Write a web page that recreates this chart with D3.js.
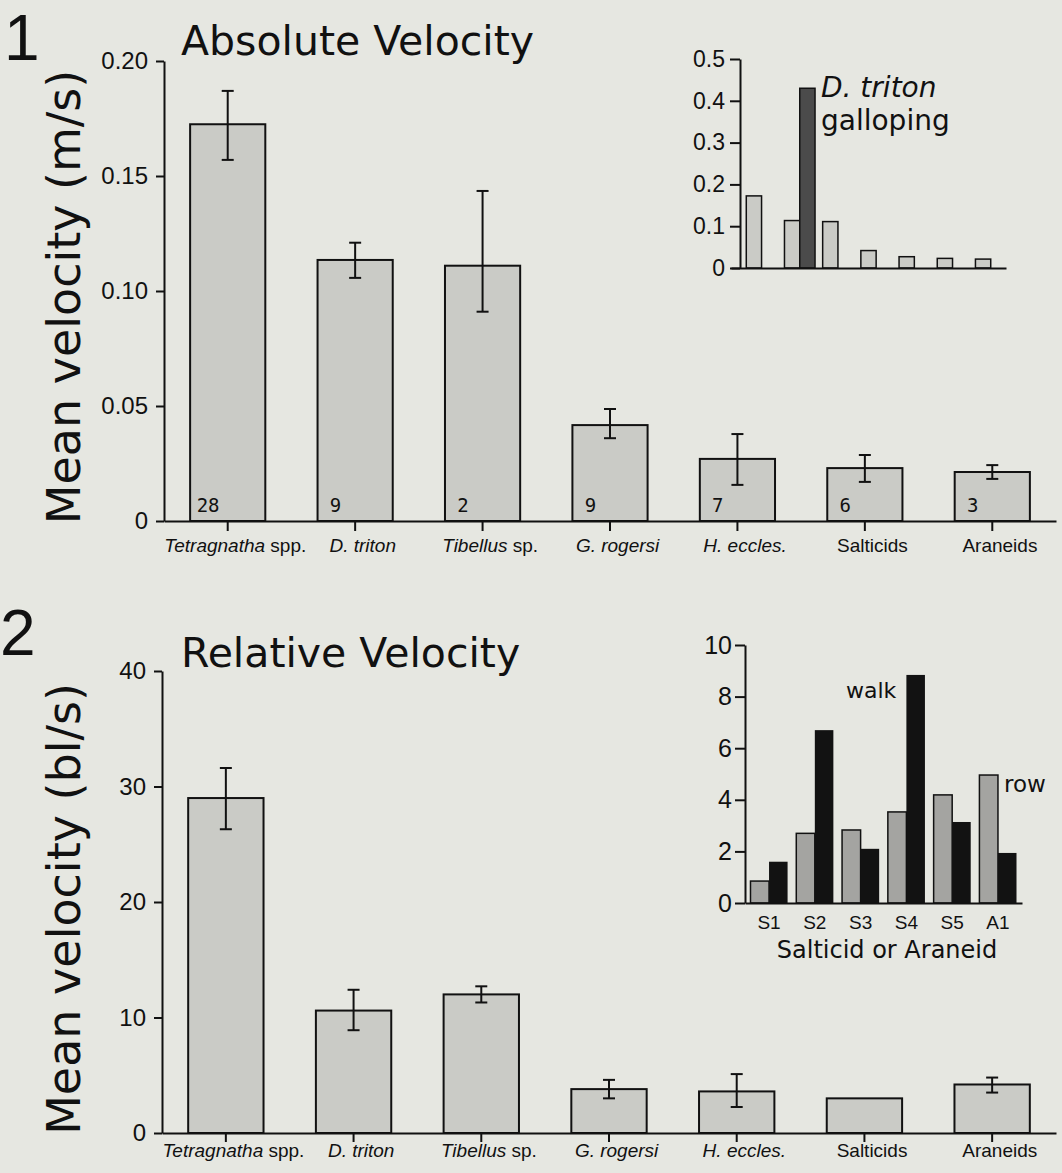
<!DOCTYPE html>
<html>
<head>
<meta charset="utf-8">
<title>Absolute and Relative Velocity</title>
<script src="https://d3js.org/d3.v7.min.js"></script>
<style type="text/css">
    body {
        margin: 0;
        background: #e6e7e1;
    }
    svg {
        display: block;
        font-family: "DejaVu Sans", sans-serif;
    }
    .axis path,
    .axis line {
        fill: none;
        stroke: #111;
        stroke-width: 2;
    }
    .axis text {
        fill: #111;
        white-space: pre;
    }
    .bar {
        fill: #cacbc6;
        stroke: #111;
        stroke-width: 2;
    }
    .err {
        stroke: #111;
        stroke-width: 2;
    }
    .label { fill: #111; }
</style>
</head>
<body>
<svg id="chart" width="1062" height="1173"></svg>
<script>
// main bar charts
var species = ["Tetragnatha spp.", "D. triton", "Tibellus sp.", "G. rogersi", "H. eccles.", "Salticids", "Araneids"];
var italicPart = ["Tetragnatha", "D. triton", "Tibellus", "G. rogersi", "H. eccles.", "", ""];
var plainPart = [" spp.", "", " sp.", "", "", "Salticids", "Araneids"];
var sampleN = [28, 9, 2, 9, 7, 6, 3];

var absVel = [0.1725, 0.1135, 0.111, 0.0417, 0.027, 0.023, 0.0213];
var absErrHi = [0.187, 0.121, 0.1435, 0.0487, 0.0378, 0.0287, 0.0243];
var absErrLo = [0.157, 0.1057, 0.091, 0.036, 0.0157, 0.017, 0.0183];
var absTicks = [0, 0.05, 0.10, 0.15, 0.20];
var absTickLabels = ["0", "0.05", "0.10", "0.15", "0.20"];

var relVel = [29.0, 10.6, 12.0, 3.8, 3.6, 3.0, 4.2];
var relErrHi = [31.6, 12.4, 12.7, 4.6, 5.1, null, 4.8];
var relErrLo = [26.3, 8.9, 11.3, 3.0, 2.25, null, 3.5];
var relTicks = [0, 10, 20, 30, 40];
var relTickLabels = ["0", "10", "20", "30", "40"];

// inset 1: D. triton galloping
var gallopVel = 0.43;
var gallopTicks = [0, 0.1, 0.2, 0.3, 0.4, 0.5];
var gallopTickLabels = ["0", "0.1", "0.2", "0.3", "0.4", "0.5"];

// inset 2: row vs walk
var gaitSpiders = ["S1", "S2", "S3", "S4", "S5", "A1"];
var rowVel = [0.85, 2.7, 2.83, 3.53, 4.19, 4.96];
var walkVel = [1.6, 6.7, 2.1, 8.84, 3.14, 1.94];
var gaitTicks = [0, 2, 4, 6, 8, 10];

var svg = d3.select("#chart");

function mainPanel(cfg) {
    var g = svg.append("g");
    var x = d3.scaleBand().domain(species).range(cfg.xRange)
        .paddingInner(0.41).paddingOuter(0.205);
    var y = d3.scaleLinear().domain(cfg.yDomain).range(cfg.yRange);

    g.selectAll("rect.bar")
        .data(cfg.values)
        .enter()
        .append("rect")
            .attr("class", "bar")
            .attr("x", function(d, i) { return x(species[i]); })
            .attr("y", function(d) { return y(d); })
            .attr("width", x.bandwidth())
            .attr("height", function(d) { return y(0) - y(d); });

    // error bars
    cfg.values.forEach(function(v, i) {
        if (cfg.hi[i] == null) return;
        var cx = x(species[i]) + x.bandwidth() / 2;
        g.append("line").attr("class", "err")
            .attr("x1", cx).attr("x2", cx)
            .attr("y1", y(cfg.lo[i])).attr("y2", y(cfg.hi[i]));
        [cfg.lo[i], cfg.hi[i]].forEach(function(e) {
            g.append("line").attr("class", "err")
                .attr("x1", cx - 6).attr("x2", cx + 6)
                .attr("y1", y(e)).attr("y2", y(e));
        });
    });

    if (cfg.counts) {
        g.selectAll("text.count")
            .data(cfg.counts)
            .enter()
            .append("text")
                .attr("class", "label")
                .attr("x", function(d, i) { return x(species[i]) + 18; })
                .attr("y", y(0) - 9)
                .attr("text-anchor", "middle")
                .style("font-family", "'DejaVu Sans Mono', monospace")
                .style("font-size", "19px")
                .text(function(d) { return d; });
    }

    g.append("g")
        .attr("class", "axis")
        .attr("transform", "translate(" + cfg.xRange[0] + ",0)")
        .call(d3.axisLeft(y).tickValues(cfg.ticks)
            .tickFormat(function(d, i) { return cfg.tickLabels[i]; })
            .tickSizeInner(8).tickSizeOuter(0).tickPadding(8))
        .selectAll("text")
            .style("font-size", "24px");

    var xAxis = g.append("g")
        .attr("class", "axis")
        .attr("transform", "translate(0," + y(0) + ")")
        .call(d3.axisBottom(x).tickSizeInner(cfg.xTick).tickSizeOuter(0).tickPadding(cfg.xPad));

    xAxis.selectAll(".tick text").each(function(d, i) {
        var t = d3.select(this).text(null).attr("dx", "0.4em").style("font-size", "19px");
        if (italicPart[i]) t.append("tspan").style("font-style", "italic").text(italicPart[i]);
        if (plainPart[i]) t.append("tspan").text(plainPart[i]);
    });

    svg.append("text")
        .attr("class", "label")
        .attr("x", 181).attr("y", cfg.titleY)
        .style("font-size", "41px")
        .text(cfg.title);

    svg.append("text")
        .attr("class", "label")
        .attr("x", cfg.numX).attr("y", cfg.numY)
        .style("font-size", "64px")
        .style("font-family", "'Liberation Sans', sans-serif")
        .text(cfg.num);

    svg.append("text")
        .attr("class", "label")
        .attr("transform", "translate(80," + cfg.labelY + ") rotate(-90)")
        .attr("text-anchor", "middle")
        .style("font-size", "46px")
        .text(cfg.yLabel);
}

mainPanel({
    values: absVel, hi: absErrHi, lo: absErrLo, counts: sampleN,
    xRange: [164, 1056], yDomain: [0, 0.20], yRange: [521, 61],
    ticks: absTicks, tickLabels: absTickLabels, xTick: 10, xPad: 8,
    title: "Absolute Velocity", titleY: 55,
    num: "1", numX: 4, numY: 60,
    yLabel: "Mean velocity (m/s)", labelY: 297
});

mainPanel({
    values: relVel, hi: relErrHi, lo: relErrLo, counts: null,
    xRange: [162, 1056], yDomain: [0, 40], yRange: [1133, 671],
    ticks: relTicks, tickLabels: relTickLabels, xTick: 9, xPad: 2,
    title: "Relative Velocity", titleY: 667,
    num: "2", numX: 0, numY: 655,
    yLabel: "Mean velocity (bl/s)", labelY: 909
});

// inset 1
var ix = d3.scaleBand().domain(species).range([731, 1006]).paddingInner(0.6).paddingOuter(0.4);
var iy = d3.scaleLinear().domain([0, 0.5]).range([268, 59]);
var inset1 = svg.append("g");

inset1.selectAll("rect.bar")
    .data(absVel)
    .enter()
    .append("rect")
        .attr("class", "bar")
        .style("stroke-width", 1.5)
        .attr("x", function(d, i) { return ix(species[i]); })
        .attr("y", function(d) { return iy(d); })
        .attr("width", ix.bandwidth())
        .attr("height", function(d) { return iy(0) - iy(d); });

inset1.append("rect")
    .attr("x", ix("D. triton") + ix.bandwidth())
    .attr("y", iy(gallopVel))
    .attr("width", ix.bandwidth())
    .attr("height", iy(0) - iy(gallopVel))
    .style("fill", "#4b4b4b")
    .style("stroke", "#111")
    .style("stroke-width", 1.5);

inset1.append("g")
    .attr("class", "axis")
    .attr("transform", "translate(0," + iy(0) + ")")
    .call(d3.axisBottom(ix).tickValues([]).tickSizeOuter(0));

inset1.append("g")
    .attr("class", "axis")
    .attr("transform", "translate(740,0)")
    .call(d3.axisLeft(iy).tickValues(gallopTicks)
        .tickFormat(function(d, i) { return gallopTickLabels[i]; })
        .tickSizeInner(10).tickSizeOuter(0).tickPadding(5))
    .selectAll("text")
        .style("font-size", "23px");

inset1.append("text")
    .attr("class", "label")
    .attr("x", 821).attr("y", 97)
    .style("font-size", "28px")
    .style("font-style", "italic")
    .text("D. triton");

inset1.append("text")
    .attr("class", "label")
    .attr("x", 821).attr("y", 130)
    .style("font-size", "28px")
    .text("galloping");

// inset 2
var sx = d3.scaleBand().domain(gaitSpiders).range([745, 1022]).paddingInner(0.19).paddingOuter(0.12);
var sub = d3.scaleBand().domain(["row", "walk"]).range([0, sx.bandwidth()]);
var sy = d3.scaleLinear().domain([0, 10]).range([903, 645]);
var inset2 = svg.append("g");

inset2.selectAll("rect.row")
    .data(rowVel)
    .enter()
    .append("rect")
        .attr("x", function(d, i) { return sx(gaitSpiders[i]) + sub("row"); })
        .attr("y", function(d) { return sy(d); })
        .attr("width", sub.bandwidth())
        .attr("height", function(d) { return sy(0) - sy(d); })
        .style("fill", "#a4a4a1")
        .style("stroke", "#111")
        .style("stroke-width", 1.5);

inset2.selectAll("rect.walk")
    .data(walkVel)
    .enter()
    .append("rect")
        .attr("x", function(d, i) { return sx(gaitSpiders[i]) + sub("walk"); })
        .attr("y", function(d) { return sy(d); })
        .attr("width", sub.bandwidth())
        .attr("height", function(d) { return sy(0) - sy(d); })
        .style("fill", "#121212");

inset2.append("g")
    .attr("class", "axis")
    .attr("transform", "translate(0," + sy(0) + ")")
    .call(d3.axisBottom(sx).tickSizeInner(0).tickSizeOuter(0).tickPadding(13))
    .selectAll("text")
        .style("font-size", "19px");

inset2.append("g")
    .attr("class", "axis")
    .attr("transform", "translate(745,0)")
    .call(d3.axisLeft(sy).tickValues(gaitTicks)
        .tickSizeInner(10).tickSizeOuter(0).tickPadding(3))
    .selectAll("text")
        .style("font-size", "25px");

inset2.append("text")
    .attr("class", "label")
    .attr("x", 846).attr("y", 698)
    .style("font-size", "22px")
    .text("walk");

inset2.append("text")
    .attr("class", "label")
    .attr("x", 1004).attr("y", 792)
    .style("font-size", "23px")
    .text("row");

inset2.append("text")
    .attr("class", "label")
    .attr("x", 887).attr("y", 958)
    .attr("text-anchor", "middle")
    .style("font-size", "24px")
    .text("Salticid or Araneid");
</script>
</body>
</html>
